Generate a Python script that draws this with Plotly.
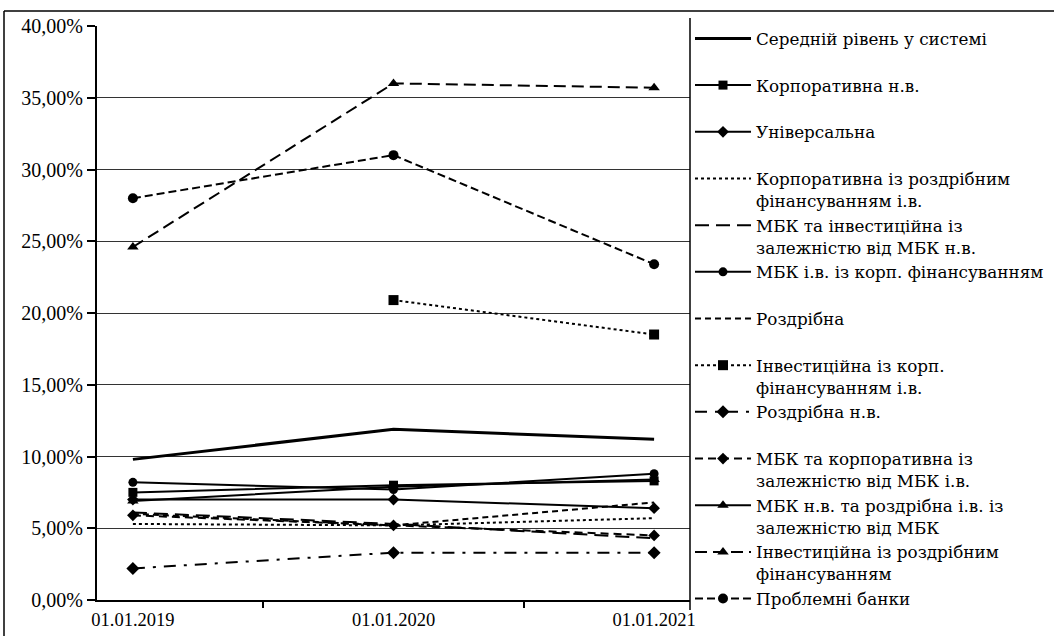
import plotly.graph_objects as go

dates = ["01.01.2019", "01.01.2020", "01.01.2021"]

# values in percent
avg_system = [9.8, 11.9, 11.2]
corp_nv = [7.5, 8.0, 8.3]
universal = [7.0, 7.0, 6.4]
corp_retail_iv = [5.3, 5.2, 5.7]
mbk_invest_nv = [6.1, 5.3, 4.3]
mbk_iv_corp_fin = [8.2, 7.7, 8.8]
retail = [6.0, 5.2, 6.8]
invest_corp_iv = [None, 20.9, 18.5]
retail_nv = [2.2, 3.3, 3.3]
mbk_corp_dep_iv = [5.9, 5.2, 4.5]
mbk_nv_retail_iv = [6.9, 7.9, 8.4]
invest_retail = [24.6, 36.0, 35.7]
problem_banks = [28.0, 31.0, 23.4]

names = [
    "Середній рівень у системі",
    "Корпоративна н.в.",
    "Універсальна",
    "Корпоративна із роздрібним<br>фінансуванням і.в.",
    "МБК та інвестиційна із<br>залежністю від МБК н.в.",
    "МБК і.в. із корп. фінансуванням",
    "Роздрібна",
    "Інвестиційна із корп.<br>фінансуванням і.в.",
    "Роздрібна н.в.",
    "МБК та корпоративна із<br>залежністю від МБК і.в.",
    "МБК н.в. та роздрібна і.в. із<br>залежністю від МБК",
    "Інвестиційна із роздрібним<br>фінансуванням",
    "Проблемні банки",
]
series = [avg_system, corp_nv, universal, corp_retail_iv, mbk_invest_nv,
          mbk_iv_corp_fin, retail, invest_corp_iv, retail_nv, mbk_corp_dep_iv,
          mbk_nv_retail_iv, invest_retail, problem_banks]

styles = [
    dict(dash="solid", width=3, symbol=None, size=0),
    dict(dash="solid", width=2, symbol="square", size=9),
    dict(dash="solid", width=2, symbol="diamond", size=9),
    dict(dash="dot", width=2, symbol=None, size=0),
    dict(dash="14px,7px", width=2, symbol=None, size=0),
    dict(dash="solid", width=2, symbol="circle", size=9),
    dict(dash="6px,4px", width=2, symbol=None, size=0),
    dict(dash="dot", width=2, symbol="square", size=10),
    dict(dash="12px,8px,3px,8px", width=2, symbol="diamond", size=10),
    dict(dash="8px,5px", width=2, symbol="diamond", size=9),
    dict(dash="solid", width=2, symbol="triangle-up", size=10),
    dict(dash="12px,6px", width=2, symbol="triangle-up", size=10),
    dict(dash="8px,4px", width=2, symbol="circle", size=10),
]

FONT = "Liberation Serif"
LEG_FONT = "DejaVu Serif"

fig = go.Figure()
for name, vals, st in zip(names, series, styles):
    label = name if "<br>" in name else name + "<br>&nbsp;"
    yv = [None if v is None else v / 100 for v in vals]
    kw = dict(
        x=dates, y=yv, name=label,
        line=dict(color="black", width=st["width"], dash=st["dash"]),
        connectgaps=False,
    )
    if st["symbol"]:
        kw["mode"] = "lines+markers"
        kw["marker"] = dict(symbol=st["symbol"], size=st["size"], color="black")
    else:
        kw["mode"] = "lines"
    fig.add_trace(go.Scatter(**kw))

L, R, T, B = 97, 690, 26, 600
W, H = 1054, 636
pw, ph = R - L, B - T


def px(x):
    return (x - L) / pw


def py(y):
    return (B - y) / ph


shapes = [
    # outer frame
    dict(type="line", xref="paper", yref="paper", x0=px(4), x1=px(W + 5), y0=py(11), y1=py(11),
         line=dict(color="black", width=1.5)),
    dict(type="line", xref="paper", yref="paper", x0=px(4), x1=px(4), y0=py(11), y1=py(H + 5),
         line=dict(color="black", width=1.5)),
    # legend left border
    dict(type="line", xref="paper", yref="paper", x0=px(690), x1=px(690), y0=py(18), y1=py(610),
         line=dict(color="black", width=1.5)),
]

fig.update_layout(
    width=W, height=H,
    margin=dict(l=L, r=W - R, t=T, b=H - B, pad=0, autoexpand=False),
    paper_bgcolor="white", plot_bgcolor="white",
    font=dict(family=FONT, size=18, color="black"),
    separators=", ",
    showlegend=True,
    legend=dict(
        xref="container", yref="container",
        x=690 / W, y=1 - 21 / H, xanchor="left", yanchor="top",
        font=dict(family=LEG_FONT, size=16.8, color="black"),
        itemwidth=56, valign="top", tracegroupgap=0,
        bgcolor="rgba(0,0,0,0)", borderwidth=0, maxheight=1000,
    ),
    shapes=shapes,
    xaxis=dict(
        type="category", showline=True, linecolor="black", linewidth=2,
        ticks="outside", tickson="boundaries", ticklen=6, tickcolor="black", tickwidth=1.5,
        showgrid=False, tickfont=dict(family=FONT, size=18.5), fixedrange=True,
        ticklabelstandoff=2,
    ),
    yaxis=dict(
        range=[0, 0.40], dtick=0.05, tickformat=".2%",
        showline=True, linecolor="black", linewidth=2,
        ticks="outside", ticklen=8, tickcolor="black", tickwidth=1.5,
        showgrid=True, gridcolor="#333333", gridwidth=1.2,
        zeroline=False, tickfont=dict(family=FONT, size=20), fixedrange=True,
    ),
)

fig.write_html("out.html")
